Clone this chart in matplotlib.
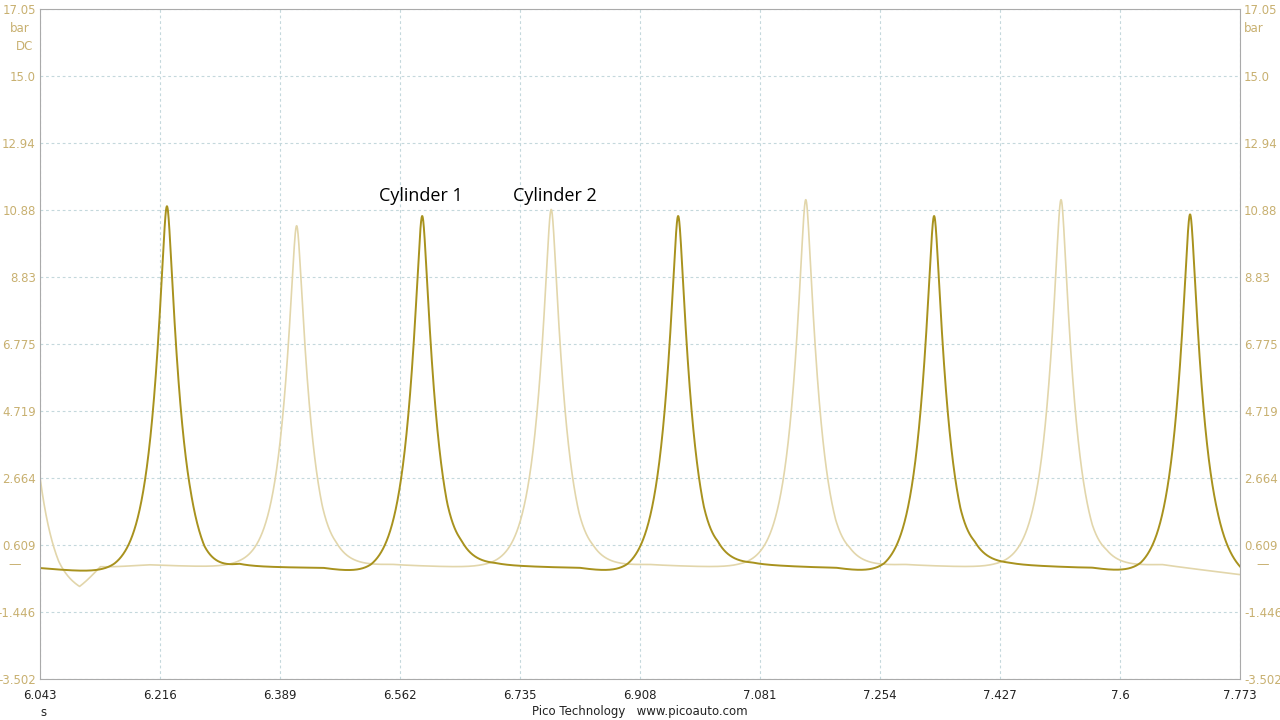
import numpy as np
import matplotlib.pyplot as plt

# axis ranges (PicoScope style: 10 divisions each)
x_min, x_max = 6.043, 7.773
y_min, y_max = -3.502, 17.05
x_ticks = [6.043, 6.216, 6.389, 6.562, 6.735, 6.908, 7.081, 7.254, 7.427, 7.6, 7.773]
y_ticks = [-3.502, -1.446, 0.609, 2.664, 4.719, 6.775, 8.83, 10.88, 12.94, 15.0, 17.05]
y_labels = ['-3.502', '-1.446', '0.609', '2.664', '4.719', '6.775', '8.83', '10.88', '12.94', '15.0', '17.05']

# peak times (s) and heights (bar)
dark_peak_t = [6.226, 6.594, 6.963, 7.332, 7.701]
dark_peak_h = [11.0, 10.7, 10.7, 10.7, 10.75]
light_peak_t = [6.012, 6.413, 6.780, 7.147, 7.515]
light_peak_h = [11.0, 10.4, 10.9, 11.2, 11.2]

# baseline levels between peaks (time, bar)
dark_base_t = [6.043, 6.15, 6.26, 6.28, 6.33, 6.45, 6.52, 6.63, 6.65, 6.70, 6.82, 6.89, 7.00,
               7.02, 7.07, 7.19, 7.26, 7.37, 7.39, 7.44, 7.56, 7.63, 7.74, 7.773]
dark_base_v = [-0.1, -0.3, -0.3, -0.4, -0.05, -0.1, -0.35, -0.4, -0.1, -0.02, -0.1, -0.35,
               -0.4, -0.1, 0.0, -0.1, -0.35, -0.35, -0.05, 0.0, -0.1, -0.35, -0.3, -0.45]
light_base_t = [6.043, 6.07, 6.10, 6.13, 6.20, 6.33, 6.45, 6.47, 6.55, 6.68, 6.82, 6.84,
                6.92, 7.05, 7.19, 7.21, 7.29, 7.42, 7.56, 7.58, 7.66, 7.773]
light_base_v = [-0.3, -0.7, -0.85, -0.1, 0.0, -0.1, -0.3, -0.1, 0.0, -0.1, -0.3, -0.1,
                0.0, -0.1, -0.3, -0.1, 0.0, -0.1, -0.3, -0.1, 0.0, -0.3]

dark_col = '#a8921e'
light_col = '#e2d6ab'
tick_col = '#c8b070'

t = np.linspace(x_min, x_max, 6000)


def trace(peak_t, peak_h, base_t, base_v, tau=0.0205):
    y = np.interp(t, base_t, base_v)
    for pt, ph in zip(peak_t, peak_h):
        d = np.sqrt((t - pt) ** 2 + 0.004 ** 2) - 0.004
        y = y + (ph - np.interp(pt, base_t, base_v)) * np.exp(-d / tau)
    return y


dark = trace(dark_peak_t, dark_peak_h, dark_base_t, dark_base_v)
light = trace(light_peak_t, light_peak_h, light_base_t, light_base_v)

fig = plt.figure(figsize=(12.8, 7.2), dpi=100)
ax = fig.add_axes([40 / 1280, 41 / 720, 1200 / 1280, 670 / 720])
ax.plot(t, light, color=light_col, lw=1.2)
ax.plot(t, dark, color=dark_col, lw=1.4)

ax.set_xlim(x_min, x_max)
ax.set_ylim(y_min, y_max)
ax.set_xticks(x_ticks)
ax.set_yticks(y_ticks)
ax.set_xticklabels([str(v) for v in x_ticks], fontsize=8.5, color='#222222')
ax.set_yticklabels(y_labels, fontsize=8.5, color=tick_col)
ax.tick_params(length=0, pad=3)
ax.tick_params(axis='x', pad=7)
ax.tick_params(axis='y', labelright=True, labelleft=True)
ax.grid(True, color='#c4d8dc', ls=(0, (2.5, 2.5)), lw=0.8)
for s in ax.spines.values():
    s.set_color('#aaaaaa')
    s.set_linewidth(0.8)

ax.text(6.592, 11.3, 'Cylinder 1', fontsize=13, ha='center', va='center', color='black',
        family='Open Sans')
ax.text(6.785, 11.3, 'Cylinder 2', fontsize=13, ha='center', va='center', color='black',
        family='Open Sans')

fig.text(30 / 1280, 1 - 28 / 720, 'bar', fontsize=8.5, color=tick_col, ha='right', va='center')
fig.text(33 / 1280, 1 - 46 / 720, 'DC', fontsize=8.5, color=tick_col, ha='right', va='center')
fig.text(1244 / 1280, 1 - 28 / 720, 'bar', fontsize=8.5, color=tick_col, ha='left', va='center')
fig.text(8 / 1280, 1 - 565 / 720, '\u2014', fontsize=9, color=tick_col, ha='left', va='center')
fig.text(1256 / 1280, 1 - 565 / 720, '\u2014', fontsize=9, color=tick_col, ha='left', va='center')
fig.text(40 / 1280, 1 - 712 / 720, 's', fontsize=8.5, color='#222222', ha='left', va='center')
fig.text(640 / 1280, 1 - 712 / 720, 'Pico Technology   www.picoauto.com', fontsize=8.5,
         color='#222222', ha='center', va='center')

fig.savefig('out.png', dpi=100)
